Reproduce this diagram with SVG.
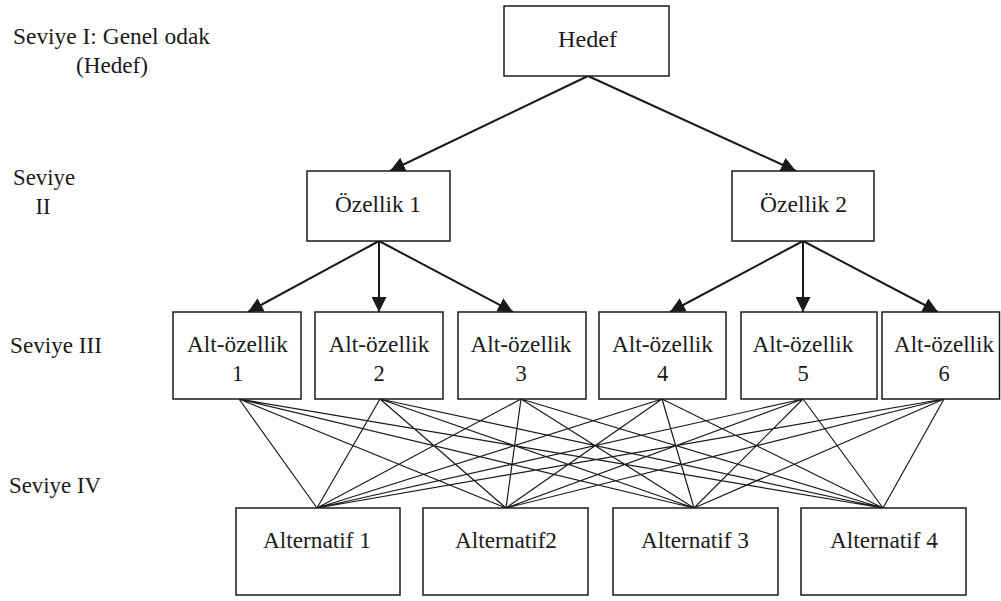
<svg xmlns="http://www.w3.org/2000/svg" width="1001" height="601" viewBox="0 0 1001 601">
  <style>
    text { font-family: "Liberation Serif", "Times New Roman", serif; font-size: 22.5px; fill: #1a1a1a; }
    .c { text-anchor: middle; }
    .box { fill: #ffffff; stroke: #1a1a1a; stroke-width: 1.5; }
    .arrow { stroke: #1a1a1a; stroke-width: 2; fill: none; marker-end: url(#head); }
    .mesh { stroke: #1a1a1a; stroke-width: 1.2; fill: none; }
  </style>
  <defs>
    <marker id="head" markerUnits="userSpaceOnUse" markerWidth="15" markerHeight="15" viewBox="0 0 15 15" refX="15" refY="7.5" orient="auto">
      <path d="M0,0 L15,7.5 L0,15 Z" fill="#1a1a1a"/>
    </marker>
  </defs>
  <rect width="1001" height="601" fill="#ffffff"/>

  <!-- level captions -->
  <g id="levels">
    <text x="13" y="44" textLength="197" lengthAdjust="spacingAndGlyphs">Seviye I: Genel odak</text>
    <text x="76" y="73" textLength="72" lengthAdjust="spacingAndGlyphs">(Hedef)</text>
    <text x="13" y="185" textLength="62" lengthAdjust="spacingAndGlyphs">Seviye</text>
    <text x="43" y="214" class="c">II</text>
    <text x="10" y="353" textLength="92" lengthAdjust="spacingAndGlyphs">Seviye III</text>
    <text x="9" y="493" textLength="92" lengthAdjust="spacingAndGlyphs">Seviye IV</text>
  </g>

  <!-- connectors -->
  <g id="connectors">
    <line class="arrow" x1="588" y1="76" x2="390" y2="171"/>
    <line class="arrow" x1="588" y1="76" x2="796" y2="171"/>
    <line class="arrow" x1="379" y1="241" x2="248" y2="312"/>
    <line class="arrow" x1="379" y1="241" x2="379" y2="312"/>
    <line class="arrow" x1="379" y1="241" x2="513" y2="312"/>
    <line class="arrow" x1="803" y1="241" x2="670" y2="312"/>
    <line class="arrow" x1="803" y1="241" x2="803" y2="312"/>
    <line class="arrow" x1="803" y1="241" x2="938" y2="312"/>
    <!-- every sub-criterion linked to every alternative -->
    <path class="mesh" d="
      M239,399 L317,508 M239,399 L506,508 M239,399 L694,508 M239,399 L883,508
      M380,399 L317,508 M380,399 L506,508 M380,399 L694,508 M380,399 L883,508
      M521,399 L317,508 M521,399 L506,508 M521,399 L694,508 M521,399 L883,508
      M662,399 L317,508 M662,399 L506,508 M662,399 L694,508 M662,399 L883,508
      M803,399 L317,508 M803,399 L506,508 M803,399 L694,508 M803,399 L883,508
      M944,399 L317,508 M944,399 L506,508 M944,399 L694,508 M944,399 L883,508"/>
  </g>

  <!-- goal -->
  <g id="hedef">
    <rect class="box" x="504" y="6" width="165" height="70"/>
    <text x="587.5" y="47" class="c" textLength="59" lengthAdjust="spacingAndGlyphs">Hedef</text>
  </g>

  <!-- criteria -->
  <g id="ozellik1">
    <rect class="box" x="307" y="171" width="143" height="70"/>
    <text x="378" y="212" class="c" textLength="86" lengthAdjust="spacingAndGlyphs">Özellik 1</text>
  </g>
  <g id="ozellik2">
    <rect class="box" x="732" y="171" width="142" height="70"/>
    <text x="803.5" y="212" class="c" textLength="87" lengthAdjust="spacingAndGlyphs">Özellik 2</text>
  </g>

  <!-- sub-criteria -->
  <g id="altozellik1">
    <rect class="box" x="173" y="312" width="128" height="87"/>
    <text x="237.5" y="352" class="c" textLength="101" lengthAdjust="spacingAndGlyphs">Alt-özellik</text>
    <text x="237.5" y="381" class="c">1</text>
  </g>
  <g id="altozellik2">
    <rect class="box" x="315" y="312" width="128" height="87"/>
    <text x="379" y="352" class="c" textLength="101" lengthAdjust="spacingAndGlyphs">Alt-özellik</text>
    <text x="379" y="381" class="c">2</text>
  </g>
  <g id="altozellik3">
    <rect class="box" x="458" y="312" width="128" height="87"/>
    <text x="521" y="352" class="c" textLength="101" lengthAdjust="spacingAndGlyphs">Alt-özellik</text>
    <text x="521" y="381" class="c">3</text>
  </g>
  <g id="altozellik4">
    <rect class="box" x="599" y="312" width="127" height="87"/>
    <text x="662.5" y="352" class="c" textLength="101" lengthAdjust="spacingAndGlyphs">Alt-özellik</text>
    <text x="662.5" y="381" class="c">4</text>
  </g>
  <g id="altozellik5">
    <rect class="box" x="741" y="312" width="136" height="87"/>
    <text x="803" y="352" class="c" textLength="101" lengthAdjust="spacingAndGlyphs">Alt-özellik</text>
    <text x="803" y="381" class="c">5</text>
  </g>
  <g id="altozellik6">
    <rect class="box" x="882" y="312" width="117.5" height="87"/>
    <text x="944" y="352" class="c" textLength="100" lengthAdjust="spacingAndGlyphs">Alt-özellik</text>
    <text x="944" y="381" class="c">6</text>
  </g>

  <!-- alternatives -->
  <g id="alternatif1">
    <rect class="box" x="236" y="508" width="164" height="87"/>
    <text x="317" y="548" class="c" textLength="108" lengthAdjust="spacingAndGlyphs">Alternatif 1</text>
  </g>
  <g id="alternatif2">
    <rect class="box" x="423" y="508" width="165" height="87"/>
    <text x="506" y="548" class="c" textLength="102" lengthAdjust="spacingAndGlyphs">Alternatif2</text>
  </g>
  <g id="alternatif3">
    <rect class="box" x="613" y="508" width="165" height="87"/>
    <text x="695" y="548" class="c" textLength="108" lengthAdjust="spacingAndGlyphs">Alternatif 3</text>
  </g>
  <g id="alternatif4">
    <rect class="box" x="801" y="508" width="165" height="87"/>
    <text x="884" y="548" class="c" textLength="108" lengthAdjust="spacingAndGlyphs">Alternatif 4</text>
  </g>
</svg>
